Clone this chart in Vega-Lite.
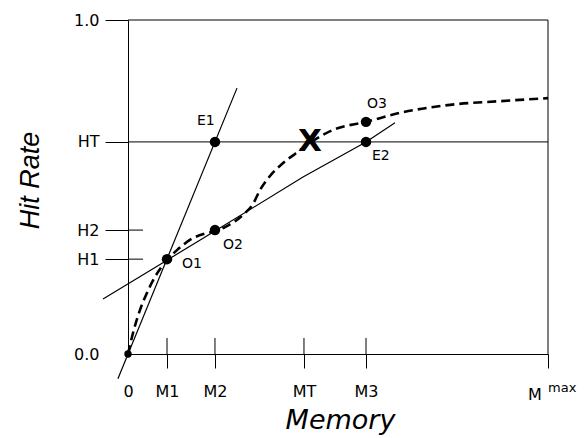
{
  "$schema": "https://vega.github.io/schema/vega-lite/v6.json",
  "width": 420,
  "height": 334,
  "autosize": "none",
  "padding": {"left": 128, "top": 20, "right": 37, "bottom": 84},
  "background": "white",
  "config": {"view": {"stroke": null}},
  "datasets": {
    "curve": [
      {"x": 0, "y": 0}, {"x": 0.119, "y": 0.063}, {"x": 0.286, "y": 0.132}, {"x": 0.452, "y": 0.183}, {"x": 0.643, "y": 0.231},
      {"x": 0.929, "y": 0.281}, {"x": 1.167, "y": 0.311}, {"x": 1.548, "y": 0.347}, {"x": 1.881, "y": 0.362},
      {"x": 2.071, "y": 0.368}, {"x": 2.31, "y": 0.38}, {"x": 2.786, "y": 0.422}, {"x": 2.976, "y": 0.449},
      {"x": 3.143, "y": 0.491}, {"x": 3.381, "y": 0.533}, {"x": 3.667, "y": 0.569}, {"x": 3.976, "y": 0.599},
      {"x": 4.333, "y": 0.632}, {"x": 4.881, "y": 0.671},
      {"x": 5.667, "y": 0.695}, {"x": 6.476, "y": 0.722}, {"x": 7.667, "y": 0.746}, {"x": 8.857, "y": 0.757},
      {"x": 10, "y": 0.766}
    ],
    "steep": [{"x": -0.24, "y": -0.074}, {"x": 2.595, "y": 0.796}],
    "shallow": [
      {"x": -0.595, "y": 0.165}, {"x": 0.929, "y": 0.281}, {"x": 2.071, "y": 0.368},
      {"x": 4.167, "y": 0.53}, {"x": 5.667, "y": 0.635}, {"x": 6.357, "y": 0.692}
    ],
    "points": [
      {"name": "O1", "x": 0.929, "y": 0.284}, {"name": "O2", "x": 2.071, "y": 0.371},
      {"name": "E1", "x": 2.071, "y": 0.635}, {"name": "E2", "x": 5.667, "y": 0.635},
      {"name": "O3", "x": 5.667, "y": 0.695}
    ],
    "origin": [{"x": 0, "y": 0}],
    "labels": [
      {"text": "E1", "x": 1.643, "y": 0.698}, {"text": "O1", "x": 1.286, "y": 0.269},
      {"text": "O2", "x": 2.262, "y": 0.326}, {"text": "O3", "x": 5.69, "y": 0.749},
      {"text": "E2", "x": 5.81, "y": 0.593}
    ],
    "vrules": [
      {"x": 0.929, "y": 0, "y2": 0.048}, {"x": 2.071, "y": 0, "y2": 0.048},
      {"x": 4.19, "y": 0, "y2": 0.048}, {"x": 5.667, "y": 0, "y2": 0.048},
      {"x": 10, "y": 0, "y2": 1}
    ],
    "hrules": [
      {"x": 0, "x2": 0.357, "y": 0.284}, {"x": 0, "x2": 0.357, "y": 0.371},
      {"x": 0, "x2": 10, "y": 0.635}, {"x": 0, "x2": 10, "y": 1}
    ],
    "xmark": [{"text": "X", "x": 4.33, "y": 0.635}],
    "mbig": [{"text": "M", "x": 9.524, "y": -0.123}],
    "msup": [{"text": "max", "x": 10.0, "y": -0.102}]
  },
  "encoding": {
    "x": {
      "field": "x", "type": "quantitative",
      "scale": {"domain": [0, 10], "nice": false, "zero": false},
      "axis": {
        "title": "Memory",
        "values": [0, 0.929, 2.071, 4.19, 5.667, 10],
        "labelExpr": "datum.value == 0 ? '0' : datum.value < 1 ? 'M1' : datum.value < 3 ? 'M2' : datum.value < 5 ? 'MT' : datum.value < 6 ? 'M3' : ''",
        "grid": false,
        "domainColor": "black", "domainWidth": 1,
        "tickColor": "black", "tickWidth": 1, "tickSize": 14,
        "tickOpacity": {"condition": {"test": "datum.value == 0", "value": 0}, "value": 1},
        "labelFont": "DejaVu Sans", "labelFontSize": 16, "labelColor": "black",
        "labelBaseline": "middle", "labelPadding": 23, "labelFlush": false, "labelOverlap": false,
        "titleFont": "DejaVu Sans", "titleFontSize": 27, "titleFontStyle": "italic", "titleFontWeight": "normal",
        "titleColor": "black", "titleX": 212, "titleY": 74, "titleBaseline": "alphabetic", "titleAlign": "center"
      }
    },
    "y": {
      "field": "y", "type": "quantitative",
      "scale": {"domain": [0, 1], "nice": false, "zero": false},
      "axis": {
        "title": "Hit Rate",
        "values": [0, 0.284, 0.371, 0.635, 1],
        "labelExpr": "datum.value == 0 ? '0.0' : datum.value < 0.3 ? 'H1' : datum.value < 0.5 ? 'H2' : datum.value < 0.9 ? 'HT' : '1.0'",
        "grid": false,
        "domainColor": "black", "domainWidth": 1,
        "tickColor": "black", "tickWidth": 1, "tickSize": 23,
        "tickOpacity": {"condition": {"test": "datum.value == 0", "value": 0}, "value": 1},
        "labelFont": "DejaVu Sans", "labelFontSize": 16, "labelColor": "black",
        "labelPadding": 6, "labelFlush": false, "labelOverlap": false,
        "titleFont": "Liberation Sans", "titleFontSize": 27, "titleFontStyle": "italic", "titleFontWeight": "normal",
        "titleColor": "black", "titleX": -98, "titleY": 160, "titleAngle": -90, "titleBaseline": "middle", "titleAlign": "center"
      }
    }
  },
  "layer": [
    {"data": {"name": "hrules"}, "mark": {"type": "rule", "color": "black", "strokeWidth": 1}, "encoding": {"x2": {"field": "x2"}}},
    {"data": {"name": "vrules"}, "mark": {"type": "rule", "color": "black", "strokeWidth": 1}, "encoding": {"y2": {"field": "y2"}}},
    {"data": {"name": "steep"}, "mark": {"type": "line", "color": "black", "strokeWidth": 1.2, "clip": false}, "encoding": {}},
    {"data": {"name": "shallow"}, "mark": {"type": "line", "color": "black", "strokeWidth": 1.2, "clip": false}, "encoding": {}},
    {"data": {"name": "curve"}, "mark": {"type": "line", "color": "black", "strokeWidth": 2.6, "strokeDash": [9, 5], "interpolate": "monotone"}, "encoding": {}},
    {"data": {"name": "points"}, "mark": {"type": "point", "filled": true, "color": "black", "opacity": 1, "size": 110}, "encoding": {}},
    {"data": {"name": "origin"}, "mark": {"type": "point", "filled": true, "color": "black", "opacity": 1, "size": 55}, "encoding": {}},
    {"data": {"name": "labels"}, "mark": {"type": "text", "font": "DejaVu Sans", "fontSize": 14, "align": "left", "baseline": "middle", "color": "black"}, "encoding": {"text": {"field": "text"}}},
    {"data": {"name": "xmark"}, "mark": {"type": "text", "font": "DejaVu Sans", "fontSize": 31, "fontWeight": "bold", "align": "center", "baseline": "middle", "color": "black"}, "encoding": {"text": {"field": "text"}}},
    {"data": {"name": "mbig"}, "mark": {"type": "text", "font": "DejaVu Sans", "fontSize": 16, "align": "left", "baseline": "middle", "color": "black"}, "encoding": {"text": {"field": "text"}}},
    {"data": {"name": "msup"}, "mark": {"type": "text", "font": "DejaVu Sans", "fontSize": 13, "align": "left", "baseline": "middle", "color": "black"}, "encoding": {"text": {"field": "text"}}}
  ]
}
